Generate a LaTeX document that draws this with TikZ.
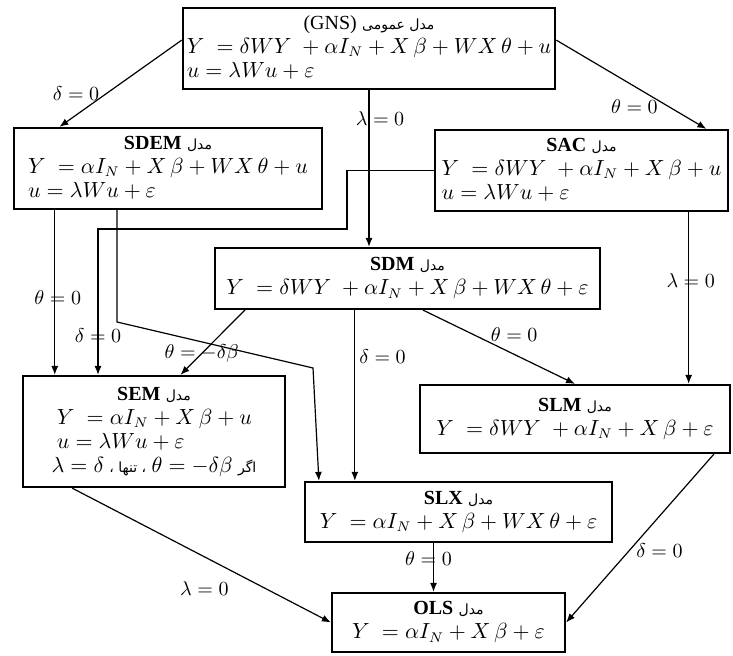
\documentclass[tikz,border=0pt]{standalone}
\usepackage{fontspec}
\setmainfont{Liberation Serif}
\newfontfamily\arabicfont[Script=Arabic]{DejaVu Sans}
\TeXXeTstate=1
\usetikzlibrary{arrows.meta, positioning, calc}
\newcommand{\fa}[1]{{\arabicfont\fontsize{7}{8}\selectfont\beginR #1\endR}}
\newcommand{\mname}[1]{{\fontsize{10}{11}\selectfont\bfseries #1}}

\begin{document}
\begin{tikzpicture}[x=0.5pt, y=-0.5pt,
  model/.style={rectangle, draw=black, line width=1.1pt, fill=white, inner sep=2pt, align=center, font=\fontsize{10.6}{12}\selectfont},
  arr/.style={-{Latex[length=4.5pt, width=3.5pt]}, line width=0.6pt},
  cond/.style={font=\fontsize{10}{11}\selectfont, inner sep=1pt}
]
\useasboundingbox[fill=white] (0,0) rectangle (733,656);

% models
\node[model, minimum width=176pt, minimum height=40.5pt] (gns) at (369,48.5) {\begin{tabular}{@{}l@{}}\multicolumn{1}{@{}c@{}}{{\fontsize{10}{11}\selectfont (GNS)} \fa{مدل عمومی}}\\ $Y\;=\delta WY\;+\alpha I_N+X\,\beta+WX\,\theta+u$\\ $u=\lambda Wu+\varepsilon$\end{tabular}};
\node[model, minimum width=154pt, minimum height=40.5pt] (sdem) at (168,168.5) {\begin{tabular}{@{}l@{}}\multicolumn{1}{@{}c@{}}{\mname{SDEM} \fa{مدل}}\\ $Y\;=\alpha I_N+X\,\beta+WX\,\theta+u$\\ $u=\lambda Wu+\varepsilon$\end{tabular}};
\node[model, minimum width=146.5pt, minimum height=40.5pt] (sac) at (581.5,170.5) {\begin{tabular}{@{}l@{}}\multicolumn{1}{@{}c@{}}{\mname{SAC} \fa{مدل}}\\ $Y\;=\delta WY\;+\alpha I_N+X\,\beta+u$\\ $u=\lambda Wu+\varepsilon$\end{tabular}};
\node[model, minimum width=192.5pt, minimum height=30.5pt] (sdm) at (407.5,278.5) {\mname{SDM} \fa{مدل}\\ $Y\;=\delta WY\;+\alpha I_N+X\,\beta+WX\,\theta+\varepsilon$};
\node[model, minimum width=131pt, minimum height=55.5pt] (sem) at (154,431.5) {\begin{tabular}{@{}l@{}}\multicolumn{1}{@{}c@{}}{\mname{SEM} \fa{مدل}}\\ \ $Y\;=\alpha I_N+X\,\beta+u$\\ \ $u=\lambda Wu+\varepsilon$\\ $\lambda=\delta$ \fa{، تنها ،} $\theta=-\delta\beta$ \fa{اگر}\end{tabular}};
\node[model, minimum width=155pt, minimum height=34pt] (slm) at (575,419) {\mname{SLM} \fa{مدل}\\ $Y\;=\delta WY\;+\alpha I_N+X\,\beta+\varepsilon$};
\node[model, minimum width=153.5pt, minimum height=30pt] (slx) at (458.5,512) {\mname{SLX} \fa{مدل}\\ $Y\;=\alpha I_N+X\,\beta+WX\,\theta+\varepsilon$};
\node[model, minimum width=116.5pt, minimum height=29.5pt] (ols) at (448.5,622.5) {\mname{OLS} \fa{مدل}\\ $Y\;=\alpha I_N+X\,\beta+\varepsilon$};

% bends
\coordinate (sdemA) at ($(sdem.south west)!0.135!(sdem.south east)$);
\coordinate (sdmB) at ($(sdm.south west)!0.364!(sdm.south east)$);
\coordinate (sacB) at ($(sac.south west)!0.863!(sac.south east)$);
\coordinate (olsA) at ($(ols.north)+(-15,0)$);
\coordinate (sacknee) at (347,229);
\coordinate (semknee) at (98,229);
\coordinate (sdemknee) at (117,322);
\coordinate (slxknee) at (313,368);

% restrictions
\draw[arr] ($(gns.north west)!0.4!(gns.south west)$) -- node[cond, pos=0.62, left=2pt] {$\delta=0$} ($(sdem.north west)!0.15!(sdem.north east)$);
\draw[arr] ($(gns.north east)!0.4!(gns.south east)$) -- node[cond, pos=0.64, below left=0pt, xshift=4pt] {$\theta=0$} ($(sac.north west)!0.923!(sac.north east)$);
\draw[arr] (gns.south) -- node[cond, pos=0.18, xshift=5.5pt] {$\lambda=0$} (gns.south |- sdm.north);
\draw[arr] (sdemA) -- node[cond, pos=0.53, xshift=1.5pt] {$\theta=0$} (sdemA |- sem.north);
\draw[arr] (sac.west) -| (sacknee) -- (semknee) -- node[cond, pos=0.73] {$\delta=0$} (semknee |- sem.north);
\draw[arr] (sdemknee |- sdem.south) -- (sdemknee) -- (slxknee) -- ($(slx.north west)+(15,0)$);
\draw[arr] ($(sdm.south west)!0.08!(sdm.south east)$) -- node[cond, pos=0.67] {$\theta=-\delta\beta$} ($(sem.north west)!0.6!(sem.north east)$);
\draw[arr] (sdmB) -- node[cond, pos=0.27, right=1pt] {$\delta=0$} (sdmB |- slx.north);
\draw[arr] ($(sdm.south west)!0.54!(sdm.south east)$) -- node[cond, pos=0.6, above=5pt] {$\theta=0$} (slm.north);
\draw[arr] (sacB) -- node[cond, pos=0.4, xshift=1pt] {$\lambda=0$} (sacB |- slm.north);
\draw[arr] ($(sem.south west)!0.19!(sem.south east)$) -- node[cond, pos=0.63, anchor=north east, xshift=-2pt, yshift=-3pt] {$\lambda=0$} (ols.west);
\draw[arr] ($(slm.south west)!0.945!(slm.south east)$) -- node[cond, pos=0.57, right=2pt] {$\delta=0$} (ols.east);
\draw[arr] (olsA |- slx.south) -- node[cond, pos=0.31, xshift=-2.5pt] {$\theta=0$} (olsA);
\end{tikzpicture}
\end{document}
